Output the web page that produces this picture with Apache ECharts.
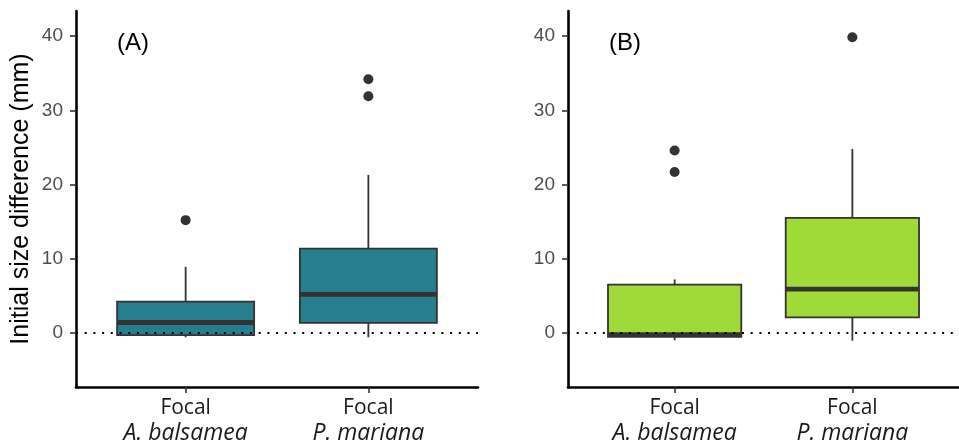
<!DOCTYPE html>
<html><head><meta charset="utf-8">
<script src="https://cdn.jsdelivr.net/npm/echarts@6/dist/echarts.min.js"></script>
<style>html,body{margin:0;padding:0;background:#fff}#c{width:959px;height:445px}</style>
</head><body><div id="c"></div>
<script>
// ---- data ----
const categories = ['A. balsamea', 'P. mariana'];
const panelLabels = ['(A)', '(B)'];
const yTicks = [0, 10, 20, 30, 40];
const yTitle = 'Initial size difference (mm)';
// [xIndex, lowerWhisker, Q1, median, Q3, upperWhisker]
const boxesA = [
  [1, -0.6, -0.3, 1.4, 4.2, 8.9],
  [2, -0.6, 1.35, 5.2, 11.35, 21.3]
];
const boxesB = [
  [1, -1.0, -0.55, -0.25, 6.5, 7.2],
  [2, -1.05, 2.1, 5.9, 15.5, 24.8]
];
const outliersA = [[1, 15.2], [2, 34.2], [2, 31.9]];
const outliersB = [[1, 24.6], [1, 21.7], [2, 39.85]];
const fillA = '#277E8C';
const fillB = '#A0DA39';

const chart = echarts.init(document.getElementById('c'), null, {renderer: 'canvas'});

function makeRender(fill) {
  return function (params, api) {
    const x = api.value(0);
    const pLo = api.coord([x, api.value(1)]);
    const pQ1 = api.coord([x, api.value(2)]);
    const pMed = api.coord([x, api.value(3)]);
    const pQ3 = api.coord([x, api.value(4)]);
    const pHi = api.coord([x, api.value(5)]);
    const w = api.size([0.75, 0])[0];
    const cx = pMed[0];
    const lw = {stroke: '#333333', lineWidth: 1.8};
    return {
      type: 'group',
      children: [
        {type: 'line', shape: {x1: cx, y1: pHi[1], x2: cx, y2: pQ3[1]}, style: lw},
        {type: 'line', shape: {x1: cx, y1: pQ1[1], x2: cx, y2: pLo[1]}, style: lw},
        {type: 'rect', shape: {x: cx - w / 2, y: pQ3[1], width: w, height: pQ1[1] - pQ3[1]},
          style: {fill: fill, stroke: '#333333', lineWidth: 1.8}},
        {type: 'line', shape: {x1: cx - w / 2, y1: pMed[1], x2: cx + w / 2, y2: pMed[1]},
          style: {stroke: '#333333', lineWidth: 4.8}}
      ]
    };
  };
}

const xLabelFmt = function (v) {
  const i = Math.round(v) - 1;
  return '{n|Focal}\n{i|' + categories[i] + '}';
};

function xAxisCfg(gi) {
  return {
    type: 'value', gridIndex: gi, min: 0.4, max: 2.6,
    axisLine: {show: true, onZero: false, lineStyle: {color: '#000', width: 2.6}},
    axisTick: {show: true, customValues: [1, 2], length: 6, lineStyle: {color: '#333', width: 1.6}},
    axisLabel: {
      customValues: [1, 2], formatter: xLabelFmt, margin: 9,
      rich: {
        n: {fontFamily: 'Open Sans', fontSize: 21, color: '#1a1a1a', lineHeight: 25},
        i: {fontFamily: 'Open Sans', fontStyle: 'italic', fontSize: 23, color: '#1a1a1a', lineHeight: 25}
      }
    },
    splitLine: {show: false}
  };
}
function yAxisCfg(gi, withName) {
  const cfg = {
    type: 'value', gridIndex: gi, min: -7.3, max: 43.4,
    axisLine: {show: true, onZero: false, lineStyle: {color: '#000', width: 2.6}},
    axisTick: {show: true, customValues: yTicks, length: 6, lineStyle: {color: '#333', width: 1.6}},
    axisLabel: {customValues: yTicks, fontFamily: 'Liberation Sans', fontSize: 19, color: '#4D4D4D', margin: 13},
    splitLine: {show: false}
  };
  if (withName) {
    cfg.name = yTitle;
    cfg.nameLocation = 'middle';
    cfg.nameGap = 42;
    cfg.nameTextStyle = {fontFamily: 'Liberation Sans', fontSize: 25, color: '#000'};
  }
  return cfg;
}

const zeroLine = {
  silent: true, symbol: 'none', label: {show: false},
  lineStyle: {type: [2, 6.7], color: '#000', width: 2.2},
  data: [{yAxis: 0}]
};

const option = {
  animation: false,
  backgroundColor: '#fff',
  grid: [
    {left: 76, top: 11, width: 402, height: 376},
    {left: 568, top: 11, width: 401, height: 376}
  ],
  title: [
    {text: panelLabels[0], left: 112, top: 26, textStyle: {fontFamily: 'Liberation Sans', fontSize: 24, fontWeight: 'normal', color: '#000'}},
    {text: panelLabels[1], left: 604, top: 26, textStyle: {fontFamily: 'Liberation Sans', fontSize: 24, fontWeight: 'normal', color: '#000'}}
  ],
  xAxis: [xAxisCfg(0), xAxisCfg(1)],
  yAxis: [yAxisCfg(0, true), yAxisCfg(1, false)],
  series: [
    {type: 'custom', xAxisIndex: 0, yAxisIndex: 0, renderItem: makeRender(fillA), data: boxesA,
      encode: {x: 0, y: [1, 2, 3, 4, 5]}, markLine: zeroLine, z: 2},
    {type: 'custom', xAxisIndex: 1, yAxisIndex: 1, renderItem: makeRender(fillB), data: boxesB,
      encode: {x: 0, y: [1, 2, 3, 4, 5]}, markLine: zeroLine, z: 2},
    {type: 'scatter', xAxisIndex: 0, yAxisIndex: 0, data: outliersA, symbolSize: 10,
      itemStyle: {color: '#333333', opacity: 1}, z: 3},
    {type: 'scatter', xAxisIndex: 1, yAxisIndex: 1, data: outliersB, symbolSize: 10,
      itemStyle: {color: '#333333', opacity: 1}, z: 3}
  ]
};
chart.setOption(option);
</script>
</body></html>
